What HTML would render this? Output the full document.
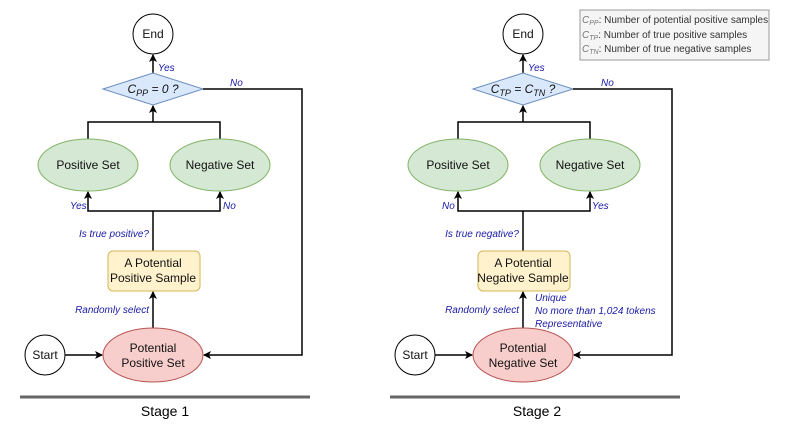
<!DOCTYPE html>
<html><head><style>
body{margin:0;background:#fff}
svg{font-family:"Liberation Sans",Arial,sans-serif}
.b{font-size:12px;fill:#111;text-anchor:middle}
.l{font-size:10px;fill:#1a1aa6;font-style:italic}
</style></head><body>
<svg width="797" height="429" viewBox="0 0 797 429">
<defs><marker id="a" markerWidth="8" markerHeight="8" refX="7" refY="4" orient="auto" markerUnits="userSpaceOnUse"><path d="M0,0 L8,4 L0,8 L2,4z" fill="#000"/></marker></defs>
<g id="s1">
<circle cx="153" cy="34" r="20" fill="#fff" stroke="#000"/>
<text class="b" x="153" y="38">End</text>
<line x1="153" y1="73" x2="153" y2="55" stroke="#000" stroke-width="1.5" marker-end="url(#a)"/>
<polygon points="103,89 153,73 203,89 153,105" fill="#dae8fc" stroke="#6c8ebf"/>
<polyline points="203,89 302,89 302,355 204,355" fill="none" stroke="#000" stroke-width="1.5" marker-end="url(#a)"/>
<polyline points="88,139 88,122 220,122 220,139" fill="none" stroke="#000" stroke-width="1.5"/>
<line x1="153" y1="122" x2="153" y2="106" stroke="#000" stroke-width="1.5" marker-end="url(#a)"/>
<ellipse cx="88" cy="165" rx="50" ry="26" fill="#d5e8d4" stroke="#82b366"/>
<ellipse cx="220" cy="165" rx="50" ry="26" fill="#d5e8d4" stroke="#82b366"/>
<text class="b" x="88" y="169">Positive Set</text>
<text class="b" x="220" y="169">Negative Set</text>
<line x1="153" y1="251" x2="153" y2="211" stroke="#000" stroke-width="1.5"/>
<polyline points="153,211 88,211 88,192" fill="none" stroke="#000" stroke-width="1.5" marker-end="url(#a)"/>
<polyline points="153,211 220,211 220,192" fill="none" stroke="#000" stroke-width="1.5" marker-end="url(#a)"/>
<rect x="108" y="251" width="92" height="40" rx="5" fill="#fff2cc" stroke="#d6b656"/>
<line x1="153" y1="328" x2="153" y2="292" stroke="#000" stroke-width="1.5" marker-end="url(#a)"/>
<ellipse cx="153" cy="355" rx="50" ry="27" fill="#f8cecc" stroke="#b85450"/>
<circle cx="45" cy="355" r="20" fill="#fff" stroke="#000"/>
<text class="b" x="45" y="359">Start</text>
<line x1="65" y1="355" x2="102" y2="355" stroke="#000" stroke-width="1.5" marker-end="url(#a)"/>
<line x1="20" y1="397" x2="310" y2="397" stroke="#666" stroke-width="3"/>
</g>
<use href="#s1" x="370"/>
<text class="b" x="153" y="93" style="font-style:italic">C<tspan font-size="9" dy="3">PP</tspan><tspan dy="-3"> = 0 ?</tspan></text>
<text class="b" x="523" y="93" style="font-style:italic">C<tspan font-size="9" dy="3">TP</tspan><tspan dy="-3"> = C</tspan><tspan font-size="9" dy="3">TN</tspan><tspan dy="-3"> ?</tspan></text>
<text class="b" x="153" y="267">A Potential</text><text class="b" x="153" y="282">Positive Sample</text>
<text class="b" x="523" y="267">A Potential</text><text class="b" x="523" y="282">Negative Sample</text>
<text class="b" x="153" y="352">Potential</text><text class="b" x="153" y="367">Positive Set</text>
<text class="b" x="523" y="352">Potential</text><text class="b" x="523" y="367">Negative Set</text>
<text class="l" x="158" y="71">Yes</text><text class="l" x="230" y="86">No</text>
<text class="l" x="528" y="71">Yes</text><text class="l" x="601" y="86">No</text>
<text class="l" x="70" y="209">Yes</text><text class="l" x="223" y="209">No</text>
<text class="l" x="442" y="209">No</text><text class="l" x="592" y="209">Yes</text>
<text class="l" x="149" y="237" text-anchor="end">Is true positive?</text>
<text class="l" x="519" y="237" text-anchor="end">Is true negative?</text>
<text class="l" x="149" y="313" text-anchor="end">Randomly select</text>
<text class="l" x="519" y="313" text-anchor="end">Randomly select</text>
<text class="l" x="535" y="301">Unique</text>
<text class="l" x="535" y="314">No more than 1,024 tokens</text>
<text class="l" x="535" y="327">Representative</text>
<text x="165" y="416" font-size="14" text-anchor="middle">Stage 1</text>
<text x="537" y="416" font-size="14" text-anchor="middle">Stage 2</text>
<rect x="580" y="10" width="189" height="50" fill="#f5f5f5" stroke="#999"/>
<g font-size="10" fill="#333">
<text x="582" y="23"><tspan fill="#777" font-style="italic">C<tspan font-size="7" dy="2">PP</tspan></tspan><tspan dy="-2">: Number of potential positive samples</tspan></text>
<text x="582" y="38"><tspan fill="#777" font-style="italic">C<tspan font-size="7" dy="2">TP</tspan></tspan><tspan dy="-2">: Number of true positive samples</tspan></text>
<text x="582" y="52"><tspan fill="#777" font-style="italic">C<tspan font-size="7" dy="2">TN</tspan></tspan><tspan dy="-2">: Number of true negative samples</tspan></text>
</g>
</svg>
</body></html>
